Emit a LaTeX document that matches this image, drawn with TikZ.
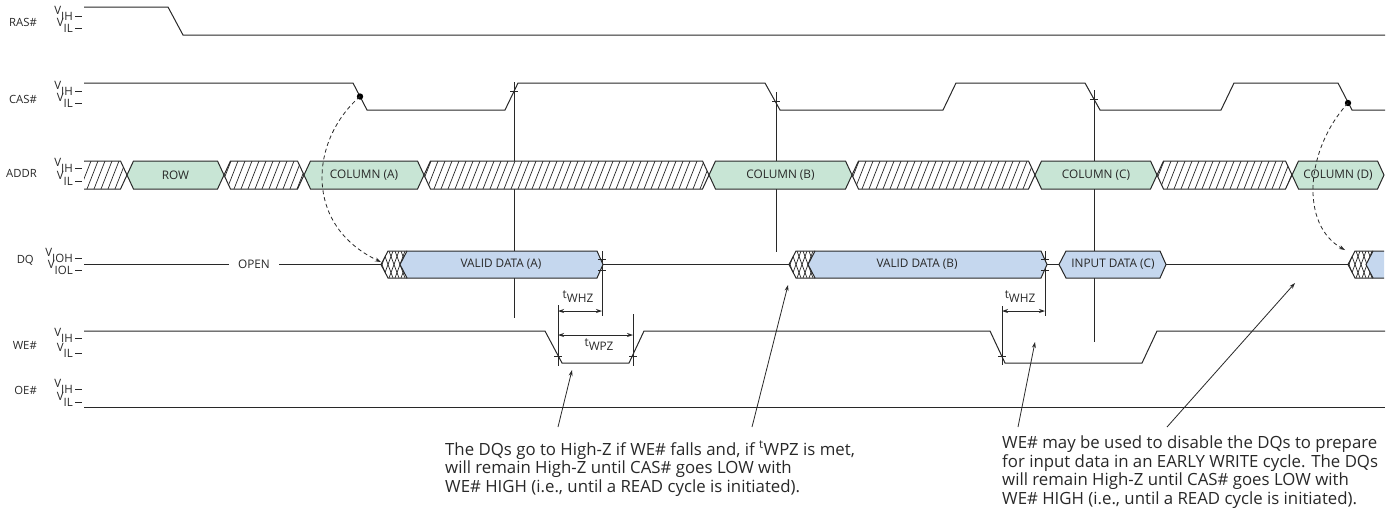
\documentclass[tikz,border=0pt]{standalone}
\usepackage{fontspec}
\setmainfont{Open Sans}
\usetikzlibrary{arrows.meta}

\definecolor{rowgreen}{RGB}{200,229,213}
\definecolor{datablue}{RGB}{197,215,238}
\definecolor{wire}{RGB}{40,40,40}

\tikzset{
x=1pt, y=-1pt, % one unit is one pixel of the sheet, y runs downwards
>={Stealth[length=6pt,width=4pt]}, % small filled arrow heads
sig/.style={draw=wire, line width=1pt}, % signal traces
hatchline/.style={draw=wire, line width=0.7pt}, % don't care hatching
guide/.style={draw=wire, line width=0.8pt}, % timing reference lines
signame/.style={anchor=east, inner sep=0pt, text=wire, font=\fontsize{11.3}{13}\selectfont},
lvltext/.style={anchor=base east, inner sep=0pt, text=wire, font=\fontsize{11.5}{13}\selectfont},
boxtext/.style={inner sep=0pt, text=wire, font=\fontsize{11.8}{13}\selectfont},
note/.style={anchor=north west, inner sep=0pt, align=left, text=wire, font=\fontsize{16.8}{18.5}\selectfont},
callout/.style={->, draw=wire, line width=0.8pt},
}

% V_IH / V_IL marks in front of a trace
\newcommand{\vlvl}[3]{%
  \node[lvltext] (#3) at (73,#1+4) {\raisebox{6pt}{V}#2};
  \draw[sig] (75,#1) -- (82,#1);
}
% hatched (don't care) window on ADDR
\newcommand{\addrhatch}[2]{%
  \fill[white] (#1,175) -- (#1+6.5,161) -- (#2-6.5,161) -- (#2,175) -- (#2-6.5,189) -- (#1+6.5,189) -- cycle;
  \begin{scope}
    \clip (#1,175) -- (#1+6.5,161) -- (#2-6.5,161) -- (#2,175) -- (#2-6.5,189) -- (#1+6.5,189) -- cycle;
    \pgfmathtruncatemacro{\hatchlen}{#2-#1+14}
    \foreach \k in {0,7,...,\hatchlen} \draw[hatchline] (#1-11+\k,189) -- ++(11,-28);
  \end{scope}
  \draw[sig] (#1,175) -- (#1+6.5,161) -- (#2-6.5,161) -- (#2,175) -- (#2-6.5,189) -- (#1+6.5,189) -- cycle;
}
% valid address window on ADDR
\newcommand{\addrbox}[4]{%
  \draw[sig, fill=rowgreen] (#1,175) -- (#1+6.5,161) -- (#2-6.5,161) -- (#2,175) -- (#2-6.5,189) -- (#1+6.5,189) -- cycle;
  \node[boxtext] (#4) at ({(#1+#2)/2},175) {#3};
}
% cross hatched transition on DQ
\newcommand{\dqcross}[2]{%
  \fill[white] (#1,264.5) -- (#1+7,251) -- (#2+7,251) -- (#2,264.5) -- (#2+7,278) -- (#1+7,278) -- cycle;
  \begin{scope}
    \clip (#1,264.5) -- (#1+7,251) -- (#2+7,251) -- (#2,264.5) -- (#2+7,278) -- (#1+7,278) -- cycle;
    \foreach \k in {0,6,...,42} {
      \draw[hatchline] (#1-10+\k,278) -- ++(10,-27);
      \draw[hatchline] (#1-10+\k,251) -- ++(10,27);
    }
  \end{scope}
  \draw[sig] (#2+7,251) -- (#1+7,251) -- (#1,264.5) -- (#1+7,278) -- (#2+7,278);
}
% data window on DQ
\newcommand{\dqbox}[5]{%
  \draw[sig, fill=datablue] (#1,264.5) -- (#1+7,251) -- (#2-6,251) -- (#2,264.5) -- (#2-6,278) -- (#1+7,278) -- cycle;
  \node[boxtext] (#5) at (#4,264.5) {#3};
}

\begin{document}
\begin{tikzpicture}
  \useasboundingbox (0,0) rectangle (1396,515);

  % signal names and levels
  \node[signame] (ras) at (37,22) {RAS\#};
  \node[signame] (cas) at (37,99) {CAS\#};
  \node[signame] (addr) at (37,173) {ADDR};
  \node[signame] (dq) at (34,260) {DQ};
  \node[signame] (we) at (37,345) {WE\#};
  \node[signame] (oe) at (37,390) {OE\#};
  \vlvl{16}{IH}{rasih} \vlvl{28}{IL}{rasil}
  \vlvl{91}{IH}{casih} \vlvl{103}{IL}{casil}
  \vlvl{168}{IH}{addrih} \vlvl{181}{IL}{addril}
  \vlvl{258}{IOH}{dqioh} \vlvl{270}{IOL}{dqiol}
  \vlvl{338}{IH}{weih} \vlvl{353}{IL}{weil}
  \vlvl{389}{IH}{oeih} \vlvl{402}{IL}{oeil}

  % RAS# and CAS#
  \draw[sig] (84,7) -- (168,7) -- (183,35) -- (1385,35);
  \draw[sig] (84,83) -- (353,83) -- (367,110) -- (505,110) -- (518,83) -- (765,83) -- (780,110)
    -- (943,110) -- (956,83) -- (1085,83) -- (1100,110) -- (1221,110) -- (1234,83)
    -- (1338,83) -- (1352,110) -- (1385,110);

  % reference lines
  \draw[guide] (514,82) -- (514,318);
  \draw[guide] (776,92) -- (776,252);
  \draw[guide] (1094,90) -- (1094,342);
  \draw[guide] (602,251) -- (602,316);
  \draw[guide] (1045,251) -- (1045,316);
  \draw[guide] (558,305) -- (558,366);
  \draw[guide] (633,314) -- (633,366);
  \draw[guide] (1002,306) -- (1002,365);

  % ADDR
  \fill[white] (84,161) -- (120.5,161) -- (127,175) -- (120.5,189) -- (84,189) -- cycle;
  \begin{scope}
    \clip (84,161) -- (120.5,161) -- (127,175) -- (120.5,189) -- (84,189) -- cycle;
    \foreach \k in {0,7,...,56} \draw[hatchline] (73+\k,189) -- ++(11,-28);
  \end{scope}
  \draw[sig] (84,161) -- (120.5,161) -- (127,175) -- (120.5,189) -- (84,189);
  \addrbox{127}{224}{ROW}{row}
  \addrhatch{224}{304}
  \addrbox{304}{424}{COLUMN (A)}{cola}
  \addrhatch{424}{709}
  \addrbox{709}{852}{COLUMN (B)}{colb}
  \addrhatch{852}{1035}
  \addrbox{1035}{1157}{COLUMN (C)}{colc}
  \addrhatch{1157}{1292}
  \addrbox{1292}{1384}{COLUMN (D)}{cold}

  % DQ
  \node[boxtext, inner xsep=9pt] (open) at (254,264.5) {OPEN};
  \draw[sig] (84,264.5) -- (open.west);
  \draw[sig] (open.east) -- (381,264.5);
  \dqcross{381}{400}
  \dqbox{400}{603}{VALID DATA (A)}{501}{dataa}
  \draw[sig] (603,264.5) -- (789,264.5);
  \dqcross{789}{808}
  \dqbox{808}{1047}{VALID DATA (B)}{917}{datab}
  \draw[sig] (1047,264.5) -- (1059,264.5);
  \dqbox{1059}{1166}{INPUT DATA (C)}{1113}{datac}
  \draw[sig] (1166,264.5) -- (1348,264.5);
  \dqcross{1348}{1366}
  \fill[datablue] (1366,264.5) -- (1373,251) -- (1384,251) -- (1384,278) -- (1373,278) -- cycle;
  \draw[sig] (1384,251) -- (1373,251) -- (1366,264.5) -- (1373,278) -- (1384,278);

  % WE# and OE#
  \draw[sig] (84,331) -- (545,331) -- (562,363) -- (629,363) -- (644,331) -- (990,331)
    -- (1005,363) -- (1142,363) -- (1157,331) -- (1385,331);
  \draw[sig] (84,407) -- (1385,407);

  % crossing marks
  \foreach \tx/\ty in {514/91, 776/101, 1094/99, 602/259, 602/270, 1045/259, 1045/270, 558/356, 633/356, 1002/356}
    \draw[guide] (\tx-4,\ty) -- (\tx+4,\ty);

  % tWHZ and tWPZ
  \coordinate (whza) at (558,311);
  \coordinate (whzb) at (602,311);
  \coordinate (wpza) at (558,335);
  \coordinate (wpzb) at (633,335);
  \coordinate (whzc) at (1002,311);
  \coordinate (whzd) at (1045,311);
  \draw[guide, <->] (whza) -- (whzb);
  \draw[guide, <->] (wpza) -- (wpzb);
  \draw[guide, <->] (whzc) -- (whzd);
  \node[boxtext] (twhza) at (578,297) {t\raisebox{-4pt}{WHZ}};
  \node[boxtext] (twpz) at (599,345) {t\raisebox{-4pt}{WPZ}};
  \node[boxtext] (twhzb) at (1020,297) {t\raisebox{-4pt}{WHZ}};

  % CAS# to DQ
  \coordinate (casfalla) at (360,96.5);
  \coordinate (casfalld) at (1348,103);
  \coordinate (crossa) at (381,262);
  \coordinate (crossd) at (1345,250);
  \fill[black] (casfalla) circle[radius=3.2pt];
  \fill[black] (casfalld) circle[radius=3.2pt];
  \draw[callout, dash pattern=on 4pt off 3pt] (casfalla) .. controls (310,140) and (303,225) .. (crossa);
  \draw[callout, dash pattern=on 4pt off 3pt] (casfalld) .. controls (1305,150) and (1300,225) .. (crossd);

  % notes
  \node[note] (notea) at (445,441) {The DQs go to High-Z if WE\# falls and, if \textsuperscript{t}WPZ is met,\\
    will remain High-Z until CAS\# goes LOW with\\
    WE\# HIGH (i.e., until a READ cycle is initiated).};
  \node[note] (noteb) at (1002,436) {WE\# may be used to disable the DQs to prepare\\
    for input data in an EARLY WRITE cycle. The DQs\\
    will remain High-Z until CAS\# goes LOW with\\
    WE\# HIGH (i.e., until a READ cycle is initiated).};
  \coordinate (pointa) at (558,427);
  \coordinate (pointb) at (752,427);
  \coordinate (pointc) at (1018,427);
  \coordinate (pointd) at (1167,427);
  \coordinate (wedip) at (572,370);
  \coordinate (dqgap) at (788,285);
  \coordinate (welow) at (1035,342);
  \coordinate (dqidle) at (1295,283);
  \draw[callout] (pointa) -- (wedip);
  \draw[callout] (pointb) -- (dqgap);
  \draw[callout] (pointc) -- (welow);
  \draw[callout] (pointd) -- (dqidle);
\end{tikzpicture}
\end{document}
